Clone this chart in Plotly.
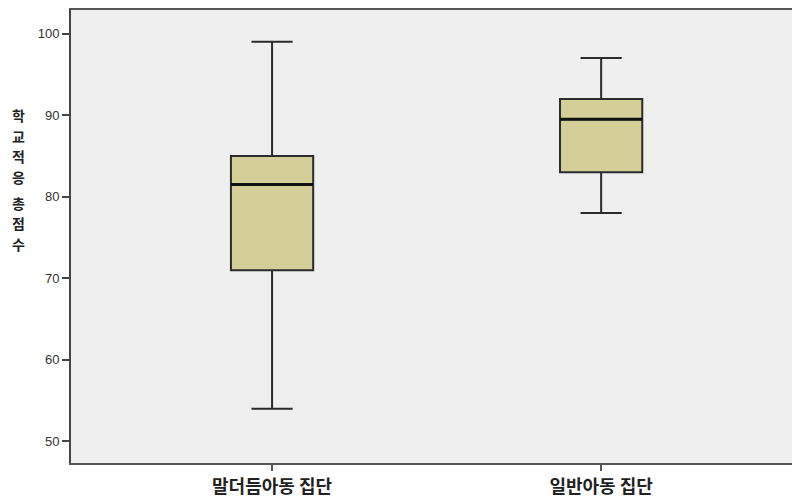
import plotly.graph_objects as go

# Group labels and five-number summaries for the school adjustment total score
groups = ["말더듬아동 집단", "일반아동 집단"]
lower_whisker = [54, 78]
q1_values = [71, 83]
medians = [81.5, 89.5]
q3_values = [85, 92]
upper_whisker = [99, 97]

y_ticks = [50, 60, 70, 80, 90, 100]
y_title = "학교적응 총점수"

fig = go.Figure()

fig.add_trace(go.Box(
    x=groups,
    q1=q1_values,
    median=medians,
    q3=q3_values,
    lowerfence=lower_whisker,
    upperfence=upper_whisker,
    fillcolor="#d4cf98",
    line=dict(color="#2b2b2b", width=2),
    width=0.25,
    whiskerwidth=0.5,
    boxpoints=False,
    showlegend=False,
    hoverinfo="skip",
))

# Heavier median bars, as in SPSS output
for i, m in enumerate(medians):
    fig.add_trace(go.Scatter(
        x=[i - 0.125, i + 0.125], y=[m, m], mode="lines",
        line=dict(color="#111111", width=3), showlegend=False, hoverinfo="skip",
        xaxis="x2",
    ))

L, R, T, B, W, H = 71, 0, 10, 38, 792, 501
plot_h = H - T - B
plot_w = W - L - R


def px_to_paper(x_px, y_px):
    return (x_px - L) / plot_w, (H - B - y_px) / plot_h


# Vertical axis title stacked one syllable per row, with a wider gap at the word break
title_font = dict(family="Noto Sans CJK KR", size=14, color="#222222", weight="bold")
annotations = []
y_px = 115
for ch in y_title:
    if ch == " ":
        y_px += 6
        continue
    ax, ay = px_to_paper(18, y_px)
    annotations.append(dict(text=ch, x=ax, y=ay, xref="paper", yref="paper",
                            xanchor="center", yanchor="middle", showarrow=False,
                            font=title_font))
    y_px += 20.5

fig.update_layout(
    width=W, height=H,
    margin=dict(l=L, r=R, t=T, b=B),
    paper_bgcolor="white",
    plot_bgcolor="#efefef",
    font=dict(family="Liberation Sans, Arial", color="#333333"),
    xaxis=dict(
        type="category",
        range=[-0.611, 1.58],
        showgrid=False, zeroline=False,
        showline=True, linecolor="#555555", linewidth=2, mirror=True,
        ticks="outside", ticklen=6, tickwidth=2, tickcolor="#555555",
        tickfont=dict(family="Noto Sans CJK KR", size=18, color="#222222", weight="bold"),
    ),
    xaxis2=dict(
        overlaying="x", range=[-0.611, 1.58], visible=False,
    ),
    yaxis=dict(
        range=[47.35, 102.9],
        tickvals=y_ticks,
        showgrid=False, zeroline=False,
        showline=True, linecolor="#444444", linewidth=2,
        ticks="outside", ticklen=7, tickwidth=2, tickcolor="#444444",
        tickfont=dict(size=13, color="#333333"),
    ),
    annotations=annotations,
)

fig.write_html("out.html")
